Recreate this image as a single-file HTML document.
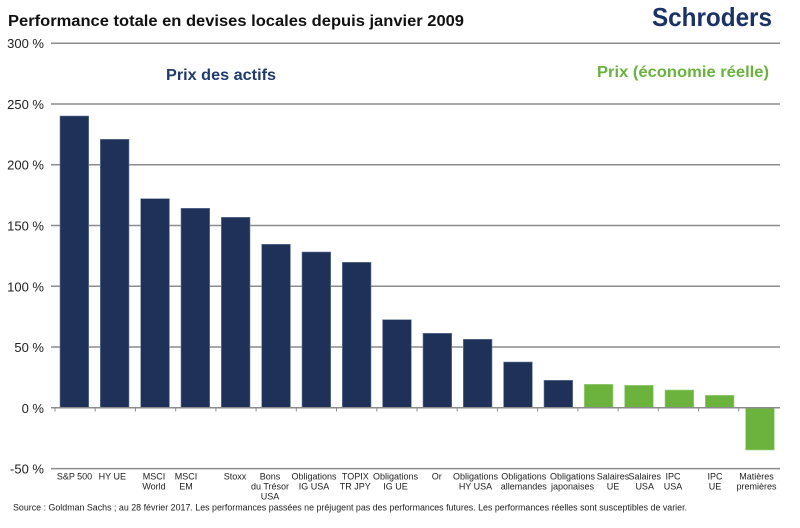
<!DOCTYPE html>
<html>
<head>
<meta charset="utf-8">
<style>
  html,body{margin:0;padding:0;background:#fff;}
  svg{display:block;}
  text{font-family:"Liberation Sans", Arial, sans-serif;}
</style>
</head>
<body>
<svg width="800" height="528" viewBox="0 0 800 528" xmlns="http://www.w3.org/2000/svg">
  <rect width="800" height="528" fill="#fff"/>

  <!-- Title -->
  <text x="8" y="26" font-size="16" font-weight="bold" fill="#111" textLength="456" lengthAdjust="spacingAndGlyphs">Performance totale en devises locales depuis janvier 2009</text>

  <!-- Logo -->
  <text x="652" y="26" font-size="26" font-weight="bold" fill="#1b3266" textLength="120" lengthAdjust="spacingAndGlyphs">Schroders</text>

  <!-- Gridlines -->
  <g stroke="#8c8c8c" stroke-width="1.5">
    <line x1="51" y1="43.2" x2="780" y2="43.2"/>
    <line x1="51" y1="104" x2="780" y2="104"/>
    <line x1="51" y1="164.7" x2="780" y2="164.7"/>
    <line x1="51" y1="225.5" x2="780" y2="225.5"/>
    <line x1="51" y1="286.3" x2="780" y2="286.3"/>
    <line x1="51" y1="347" x2="780" y2="347"/>
    <line x1="51" y1="468.6" x2="780" y2="468.6"/>
  </g>

  <!-- Y labels -->
  <g font-size="13" fill="#222" text-anchor="end">
    <text x="44" y="48.2">300 %</text>
    <text x="44" y="109">250 %</text>
    <text x="44" y="169.7">200 %</text>
    <text x="44" y="230.5">150 %</text>
    <text x="44" y="291.3">100 %</text>
    <text x="44" y="352">50 %</text>
    <text x="44" y="412.8">0 %</text>
    <text x="44" y="473.6">-50 %</text>
  </g>

  <!-- Section headers -->
  <text x="166" y="80" font-size="16" font-weight="bold" fill="#1f3a6e" textLength="110" lengthAdjust="spacingAndGlyphs">Prix des actifs</text>
  <text x="597" y="77" font-size="15.5" font-weight="bold" fill="#6ab23e" textLength="172" lengthAdjust="spacingAndGlyphs">Prix (économie réelle)</text>

  <!-- Bars navy -->
  <g fill="#1f3159" stroke="#6f7f9f" stroke-width="0.6">
    <rect x="60" y="116" width="28.7" height="291.8"/>
    <rect x="100.3" y="139.3" width="28.7" height="268.5"/>
    <rect x="140.7" y="198.7" width="28.7" height="209.1"/>
    <rect x="181" y="208.3" width="28.7" height="199.5"/>
    <rect x="221.3" y="217.3" width="28.7" height="190.5"/>
    <rect x="261.7" y="244.3" width="28.7" height="163.5"/>
    <rect x="302" y="252" width="28.7" height="155.8"/>
    <rect x="342.3" y="262.3" width="28.7" height="145.5"/>
    <rect x="382.6" y="319.7" width="28.7" height="88.1"/>
    <rect x="423" y="333.3" width="28.7" height="74.5"/>
    <rect x="463.3" y="339.3" width="28.7" height="68.5"/>
    <rect x="503.6" y="362" width="28.7" height="45.8"/>
    <rect x="544" y="380.3" width="28.7" height="27.5"/>
  </g>
  <!-- Bars green -->
  <g fill="#6cb33e" stroke="#a5d38a" stroke-width="0.6">
    <rect x="584.3" y="384.3" width="28.7" height="23.5"/>
    <rect x="624.6" y="385.3" width="28.7" height="22.5"/>
    <rect x="665" y="390" width="28.7" height="17.8"/>
    <rect x="705.3" y="395.3" width="28.7" height="12.5"/>
    <rect x="745.6" y="407.8" width="28.7" height="42.2"/>
  </g>

  <!-- Zero axis -->
  <line x1="51" y1="407.8" x2="780" y2="407.8" stroke="#8c8c8c" stroke-width="1.5"/>
  <g stroke="#8c8c8c" stroke-width="1">
    <line x1="55" y1="408" x2="55" y2="411.5"/>
    <line x1="95.2" y1="408" x2="95.2" y2="411.5"/>
    <line x1="135.4" y1="408" x2="135.4" y2="411.5"/>
    <line x1="175.7" y1="408" x2="175.7" y2="411.5"/>
    <line x1="215.9" y1="408" x2="215.9" y2="411.5"/>
    <line x1="256.1" y1="408" x2="256.1" y2="411.5"/>
    <line x1="296.3" y1="408" x2="296.3" y2="411.5"/>
    <line x1="336.5" y1="408" x2="336.5" y2="411.5"/>
    <line x1="376.8" y1="408" x2="376.8" y2="411.5"/>
    <line x1="417" y1="408" x2="417" y2="411.5"/>
    <line x1="457.2" y1="408" x2="457.2" y2="411.5"/>
    <line x1="497.4" y1="408" x2="497.4" y2="411.5"/>
    <line x1="537.6" y1="408" x2="537.6" y2="411.5"/>
    <line x1="577.9" y1="408" x2="577.9" y2="411.5"/>
    <line x1="618.1" y1="408" x2="618.1" y2="411.5"/>
    <line x1="658.3" y1="408" x2="658.3" y2="411.5"/>
    <line x1="698.5" y1="408" x2="698.5" y2="411.5"/>
    <line x1="738.7" y1="408" x2="738.7" y2="411.5"/>
  </g>

  <!-- X labels -->
  <g font-size="9" fill="#222" text-anchor="middle">
    <text x="74.5" y="479.5">S&amp;P 500</text>
    <text x="112.3" y="479.5">HY UE</text>
    <text x="154" y="479.5">MSCI</text><text x="154" y="489.5">World</text>
    <text x="186" y="479.5">MSCI</text><text x="186" y="489.5">EM</text>
    <text x="235" y="479.5">Stoxx</text>
    <text x="270" y="479.5">Bons</text><text x="270" y="489.5">du Trésor</text><text x="270" y="499.5">USA</text>
    <text x="314" y="479.5">Obligations</text><text x="314" y="489.5">IG USA</text>
    <text x="355.3" y="479.5">TOPIX</text><text x="355.3" y="489.5">TR JPY</text>
    <text x="395.5" y="479.5">Obligations</text><text x="395.5" y="489.5">IG UE</text>
    <text x="436.7" y="479.5">Or</text>
    <text x="475.5" y="479.5">Obligations</text><text x="475.5" y="489.5">HY USA</text>
    <text x="523.8" y="479.5">Obligations</text><text x="523.8" y="489.5">allemandes</text>
    <text x="572.5" y="479.5">Obligations</text><text x="572.5" y="489.5">japonaises</text>
    <text x="613" y="479.5">Salaires</text><text x="613" y="489.5">UE</text>
    <text x="644.7" y="479.5">Salaires</text><text x="644.7" y="489.5">USA</text>
    <text x="673" y="479.5">IPC</text><text x="673" y="489.5">USA</text>
    <text x="715" y="479.5">IPC</text><text x="715" y="489.5">UE</text>
    <text x="756.5" y="479.5">Matières</text><text x="756.5" y="489.5">premières</text>
  </g>

  <!-- Source -->
  <text x="13" y="510.5" font-size="9" fill="#222" textLength="674" lengthAdjust="spacingAndGlyphs">Source : Goldman Sachs ; au 28 février 2017. Les performances passées ne préjugent pas des performances futures. Les performances réelles sont susceptibles de varier.</text>
</svg>
</body>
</html>
